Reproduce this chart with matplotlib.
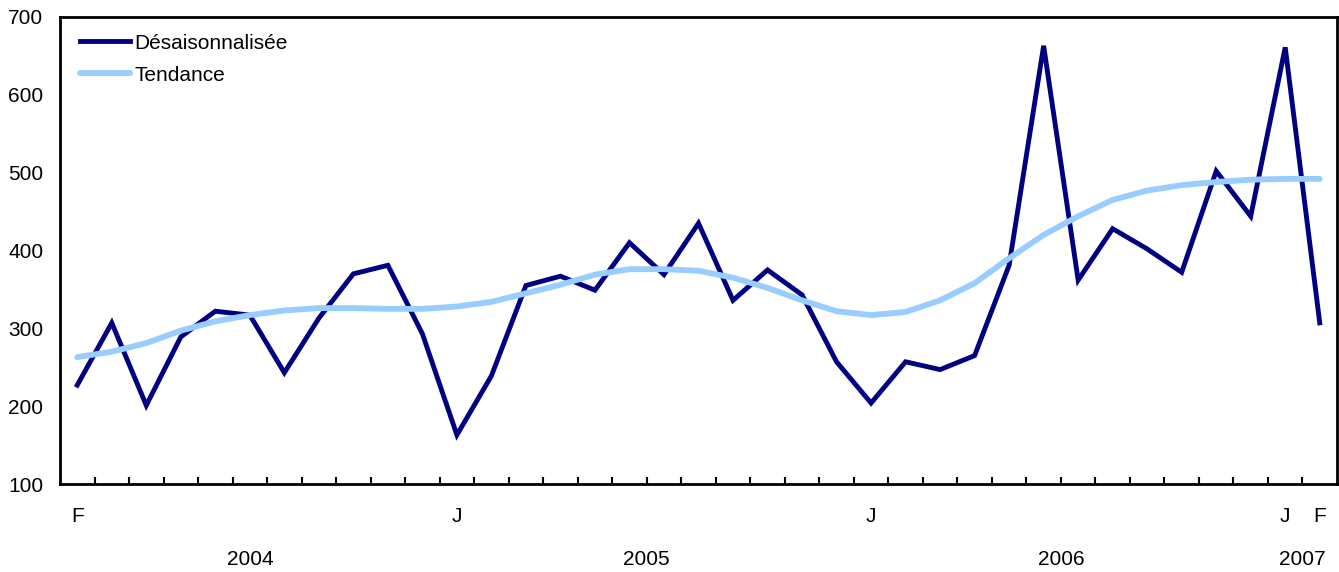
import numpy as np
import matplotlib
matplotlib.use("Agg")
import matplotlib.pyplot as plt

plt.rcParams['font.family'] = ['Liberation Sans', 'DejaVu Sans']

# monthly series, Feb 2004 to Feb 2007
desais = [227, 307, 201, 289, 322, 317, 243, 313, 370, 381, 293, 163,
          239, 355, 367, 349, 410, 369, 435, 336, 375, 343, 257, 204,
          257, 247, 265, 381, 663, 362, 428, 402, 372, 502, 444, 661, 307]
tendance = [263, 270, 281, 297, 309, 317, 323, 326, 326, 325, 325, 328,
            334, 345, 356, 369, 376, 376, 374, 365, 352, 336, 322, 317,
            321, 336, 358, 390, 420, 444, 465, 477, 484, 488, 491, 492, 492]
month_labels = {0: 'F', 11: 'J', 23: 'J', 35: 'J', 36: 'F'}
years = ['2004', '2005', '2006', '2007']
year_spans = [(0, 10), (11, 22), (23, 34), (35, 36)]

x = np.arange(len(desais))

fig = plt.figure(figsize=(13.39, 5.72), dpi=100)
ax = fig.add_axes([60/1339, 1 - 484/572, 1277/1339, 467/572])

ax.plot(x, desais, color='#000080', lw=3.5, label='Désaisonnalisée', solid_joinstyle='miter')
ax.plot(x, tendance, color='#99CCFF', lw=4.2, label='Tendance', solid_capstyle='round')

ax.set_xlim(-0.5, len(x) - 0.5)
ax.set_ylim(100, 700)
ax.set_yticks(np.arange(100, 701, 100))
ax.tick_params(axis='y', length=0, labelsize=15, pad=12)

# ticks between months, labels under chosen months
ax.set_xticks(np.arange(0.5, len(x) - 1, 1.0))
ax.set_xticklabels([])
ax.tick_params(axis='x', direction='in', length=5, width=1.5)

for i, lab in month_labels.items():
    ax.text(i, -0.07, lab, transform=ax.get_xaxis_transform(), ha='center', va='center', fontsize=15)
for yr, (a, b) in zip(years, year_spans):
    ax.text((a + b) / 2, -0.162, yr, transform=ax.get_xaxis_transform(), ha='center', va='center', fontsize=15)

for s in ax.spines.values():
    s.set_linewidth(2)

leg = ax.legend(loc='upper left', bbox_to_anchor=(0.003, 1.0), frameon=False, fontsize=15,
                handlelength=2.4, handletextpad=0.2, labelspacing=0.62, borderaxespad=0.4)

fig.savefig('out.png', dpi=100)
